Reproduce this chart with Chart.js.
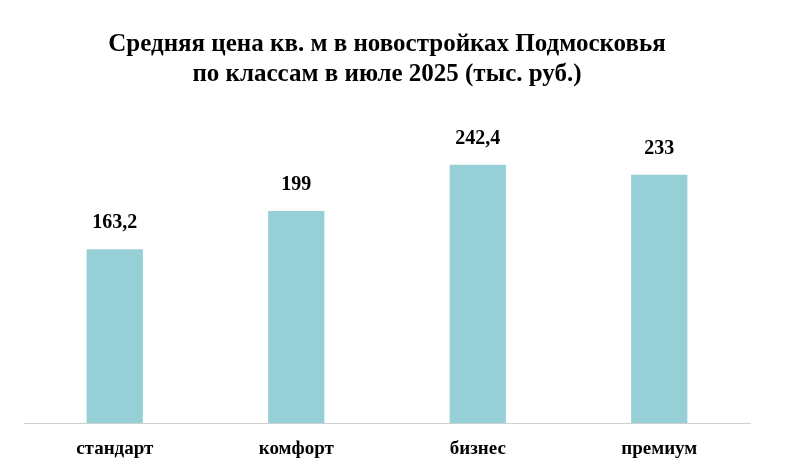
<!DOCTYPE html>
<html><head><meta charset="utf-8">
<script src="https://cdn.jsdelivr.net/npm/chart.js@4/dist/chart.umd.min.js"></script>
<style>html,body{margin:0;background:#fff}#w{width:800px;height:468px}</style>
</head><body><div id="w"><canvas id="c"></canvas></div>
<script>
const categories = ["стандарт","комфорт","бизнес","премиум"];
const values = [163.2,199,242.4,233];
const valueLabels = ["163,2","199","242,4","233"];
const titleLines = ["Средняя цена кв. м в новостройках Подмосковья","по классам в июле 2025 (тыс. руб.)"];
const F = "'Liberation Serif','Times New Roman',serif";
const labelPlugin = {id:'lbl',afterDatasetsDraw(ch){
  const ctx=ch.ctx; ctx.save(); ctx.font="bold 20px "+F; ctx.fillStyle="#000"; ctx.textAlign="center"; ctx.textBaseline="bottom";
  ch.getDatasetMeta(0).data.forEach((b,i)=>ctx.fillText(valueLabels[i],b.x,b.y-16));
  ctx.restore();}};
new Chart(document.getElementById('c'),{type:'bar',
 data:{labels:categories,datasets:[{data:values,backgroundColor:'#96CFD6',barPercentage:0.31,categoryPercentage:1}]},
 options:{responsive:true,maintainAspectRatio:false,animation:false,
  layout:{padding:{left:24,right:50,top:30,bottom:2}},
  plugins:{legend:{display:false},tooltip:{enabled:false},
   title:{display:true,text:titleLines,color:'#000',font:{family:F,size:25,weight:'bold'},lineHeight:1.2,padding:{bottom:24}}},
  scales:{y:{display:false,min:0,max:290},
   x:{grid:{display:false},border:{color:'#d0d0d0',width:1},ticks:{color:'#000',font:{family:F,size:19,weight:'bold'},padding:6}}}},
 plugins:[labelPlugin]});
</script></body></html>
